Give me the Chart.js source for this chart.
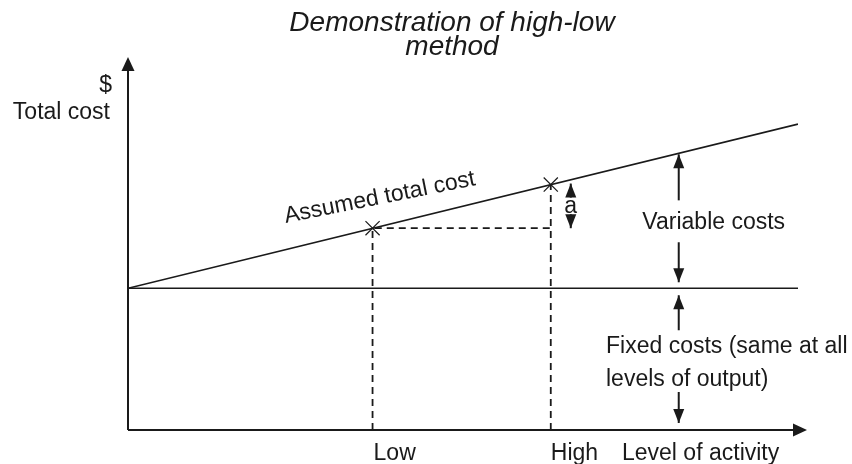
<!DOCTYPE html>
<html>
<head>
<meta charset="utf-8">
<script src="https://cdn.jsdelivr.net/npm/chart.js@4/dist/chart.umd.min.js"></script>
<style>
  html, body { margin: 0; padding: 0; background: #ffffff; }
  #wrap { width: 852px; height: 464px; position: relative; }
</style>
</head>
<body>
<div id="wrap"><canvas id="c"></canvas></div>
<script>
// ---- data ----
const activityRange = [0, 100];          // level of activity (x)
const totalCostLine = [38, 82];          // total cost at x = 0 and x = 100
const fixedCostLine = [38, 38];          // fixed cost at x = 0 and x = 100
const pointLabels = ['Low', 'High'];
const pointActivity = [36.5, 63.1];
const pointCost = [54.1, 65.8];
const titleLines = ['Demonstration of high-low', 'method'];
const yAxisLabels = ['$', 'Total cost'];
const xAxisLabel = 'Level of activity';
const lineLabel = 'Assumed total cost';
const variableLabel = 'Variable costs';
const fixedLabelLines = ['Fixed costs (same at all', 'levels of output)'];
const diffLabel = 'a';
const variableArrowX = 82.2;             // activity at which cost brackets are drawn

const INK = '#1a1a1a';
const FONT = '"Liberation Sans", Arial, Helvetica, sans-serif';

function arrowHead(ctx, x, y, dir, len, half) {
  ctx.beginPath();
  if (dir === 'up') { ctx.moveTo(x, y); ctx.lineTo(x - half, y + len); ctx.lineTo(x + half, y + len); }
  else if (dir === 'down') { ctx.moveTo(x, y); ctx.lineTo(x - half, y - len); ctx.lineTo(x + half, y - len); }
  else { ctx.moveTo(x, y); ctx.lineTo(x - len, y - half); ctx.lineTo(x - len, y + half); }
  ctx.closePath();
  ctx.fill();
}
function vArrow(ctx, x, yTip, yEnd, dir) {
  ctx.beginPath();
  ctx.moveTo(x, yTip);
  ctx.lineTo(x, yEnd);
  ctx.stroke();
  arrowHead(ctx, x, yTip, dir, 14, 5.5);
}

const diagramPlugin = {
  id: 'diagram',
  afterDatasetsDraw(chart) {
    const ctx = chart.ctx;
    const xs = chart.scales.x, ys = chart.scales.y;
    const area = chart.chartArea;
    ctx.save();
    ctx.strokeStyle = INK;
    ctx.fillStyle = INK;

    // axes with arrows
    ctx.lineWidth = 2;
    const ox = xs.getPixelForValue(activityRange[0]);
    const oy = ys.getPixelForValue(0);
    ctx.beginPath();
    ctx.moveTo(ox, oy); ctx.lineTo(ox, area.top + 10);
    ctx.moveTo(ox, oy); ctx.lineTo(area.right + 2, oy);
    ctx.stroke();
    arrowHead(ctx, ox, area.top, 'up', 14, 6.5);
    arrowHead(ctx, area.right + 9, oy, 'right', 14, 6.5);

    // cost brackets
    ctx.lineWidth = 2;
    const vx = xs.getPixelForValue(variableArrowX);
    const tcAt = totalCostLine[0] + (totalCostLine[1] - totalCostLine[0]) * variableArrowX / activityRange[1];
    const yTop = ys.getPixelForValue(tcAt);
    const yFix = ys.getPixelForValue(fixedCostLine[0]);
    vArrow(ctx, vx, yTop + 1, yTop + 47, 'up');
    vArrow(ctx, vx, yFix - 6, yFix - 46, 'down');
    vArrow(ctx, vx, yFix + 7, yFix + 42, 'up');
    vArrow(ctx, vx, oy - 7, oy - 38, 'down');

    // "a" difference arrow
    const ax = xs.getPixelForValue(pointActivity[1]) + 20;
    const yHigh = ys.getPixelForValue(pointCost[1]);
    const yLow = ys.getPixelForValue(pointCost[0]);
    vArrow(ctx, ax, yHigh - 1, yHigh + 13, 'up');
    vArrow(ctx, ax, yLow, yLow - 14, 'down');

    // texts
    ctx.textBaseline = 'alphabetic';
    ctx.font = 'italic 28px ' + FONT;
    ctx.textAlign = 'center';
    ctx.fillText(titleLines[0], 452, 31);
    ctx.fillText(titleLines[1], 452, 55);

    ctx.font = '23px ' + FONT;
    ctx.textAlign = 'right';
    ctx.fillText(yAxisLabels[0], ox - 16, 92);
    ctx.fillText(yAxisLabels[1], ox - 18, 119);

    ctx.textAlign = 'center';
    ctx.fillText(diffLabel, ax, (yHigh + yLow) / 2 + 7);
    ctx.fillText(variableLabel, vx + 35, 229);

    ctx.textAlign = 'left';
    ctx.fillText(fixedLabelLines[0], 606, 353);
    ctx.fillText(fixedLabelLines[1], 606, 386);

    ctx.fillText(pointLabels[0], xs.getPixelForValue(pointActivity[0]) + 1, 460);
    ctx.fillText(pointLabels[1], xs.getPixelForValue(pointActivity[1]), 460);
    ctx.fillText(xAxisLabel, 622, 460);

    // rotated line label (slightly shallower than the line, as in the source)
    ctx.translate(381, 204);
    ctx.rotate(-Math.atan(0.2));
    ctx.textAlign = 'center';
    ctx.fillText(lineLabel, 0, 0);
    ctx.restore();
  }
};

const ds = [
  {
    label: 'Total cost',
    data: [{x: activityRange[0], y: totalCostLine[0]}, {x: activityRange[1], y: totalCostLine[1]}],
    showLine: true, borderColor: INK, borderWidth: 1.6, pointRadius: 0
  },
  {
    label: 'Fixed cost',
    data: [{x: activityRange[0], y: fixedCostLine[0]}, {x: activityRange[1], y: fixedCostLine[1]}],
    showLine: true, borderColor: INK, borderWidth: 1.6, pointRadius: 0
  },
  {
    label: 'Low guide',
    data: [{x: pointActivity[0], y: 0}, {x: pointActivity[0], y: pointCost[0]}, {x: pointActivity[1], y: pointCost[0]}],
    showLine: true, borderColor: INK, borderWidth: 1.8, borderDash: [7, 5], pointRadius: 0
  },
  {
    label: 'High guide',
    data: [{x: pointActivity[1], y: 0}, {x: pointActivity[1], y: pointCost[1]}],
    showLine: true, borderColor: INK, borderWidth: 1.8, borderDash: [7, 5], pointRadius: 0
  },
  {
    label: 'Points',
    data: pointActivity.map((v, i) => ({x: v, y: pointCost[i]})),
    showLine: false, pointStyle: 'crossRot', pointRadius: 10, borderColor: INK, borderWidth: 1.2
  }
];

new Chart(document.getElementById('c'), {
  type: 'scatter',
  data: { datasets: ds },
  options: {
    responsive: true,
    maintainAspectRatio: false,
    animation: false,
    layout: { padding: { left: 128, right: 54, top: 57, bottom: 34 } },
    plugins: { legend: { display: false }, tooltip: { enabled: false }, title: { display: false } },
    scales: {
      x: { type: 'linear', min: activityRange[0], max: activityRange[1], display: false },
      y: { type: 'linear', min: 0, max: 100, display: false }
    }
  },
  plugins: [diagramPlugin]
});
</script>
</body>
</html>
